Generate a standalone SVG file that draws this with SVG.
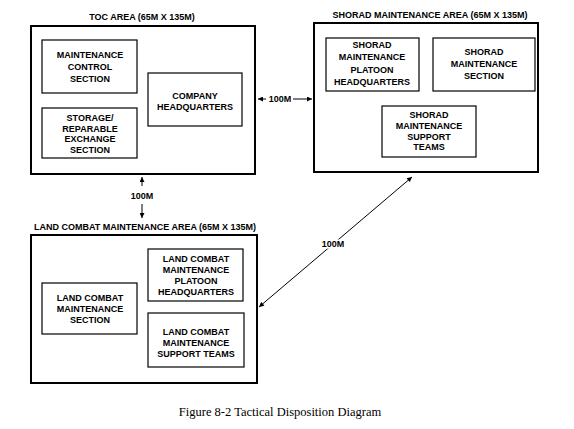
<svg xmlns="http://www.w3.org/2000/svg" width="574" height="429" viewBox="0 0 574 429">
<defs>
<marker id="ah" viewBox="0 0 10 10" refX="10" refY="5" markerWidth="6" markerHeight="5" orient="auto-start-reverse" markerUnits="userSpaceOnUse">
<path d="M0,0 L10,5 L0,10 Z" fill="#000"/>
</marker>
</defs>
<style>
text{font-family:"Liberation Sans",Arial,sans-serif;font-weight:bold;font-size:9px;fill:#000;text-anchor:middle}
.area{fill:none;stroke:#000;stroke-width:2}
.box{fill:none;stroke:#000;stroke-width:1.2}
.ln{stroke:#000;stroke-width:1;fill:none;marker-end:url(#ah)}
.both{stroke:#000;stroke-width:1;fill:none;marker-start:url(#ah);marker-end:url(#ah)}
.cap{font-family:"Liberation Serif","Times New Roman",serif;font-weight:normal;font-size:12.5px}
.halo{stroke:#fff;stroke-width:3;paint-order:stroke}
</style>
<rect width="574" height="429" fill="#fff"/>

<g id="toc-area">
<text x="142" y="20">TOC AREA (65M X 135M)</text>
<rect class="area" x="31" y="26" width="224" height="148"/>
</g>
<g id="maintenance-control">
<rect class="box" x="42" y="40" width="95" height="53"/>
<text x="90" y="58">MAINTENANCE</text>
<text x="90" y="70">CONTROL</text>
<text x="90" y="82">SECTION</text>
</g>
<g id="storage">
<rect class="box" x="42" y="108" width="95" height="50"/>
<text x="90" y="121">STORAGE/</text>
<text x="90" y="132">REPARABLE</text>
<text x="90" y="142">EXCHANGE</text>
<text x="90" y="153">SECTION</text>
</g>
<g id="company-hq">
<rect class="box" x="148" y="73" width="94" height="53"/>
<text x="195" y="99">COMPANY</text>
<text x="195" y="110">HEADQUARTERS</text>
</g>

<g id="shorad-area">
<text x="430" y="18">SHORAD MAINTENANCE AREA (65M X 135M)</text>
<rect class="area" x="314" y="23" width="224" height="149"/>
</g>
<g id="shorad-plt-hq">
<rect class="box" x="326" y="38" width="93" height="53"/>
<text x="372" y="48">SHORAD</text>
<text x="372" y="60">MAINTENANCE</text>
<text x="372" y="73">PLATOON</text>
<text x="372" y="85">HEADQUARTERS</text>
</g>
<g id="shorad-section">
<rect class="box" x="433" y="38" width="102" height="53"/>
<text x="484" y="55">SHORAD</text>
<text x="484" y="67">MAINTENANCE</text>
<text x="484" y="79">SECTION</text>
</g>
<g id="shorad-teams">
<rect class="box" x="382" y="106" width="94" height="51"/>
<text x="429" y="118">SHORAD</text>
<text x="429" y="129">MAINTENANCE</text>
<text x="429" y="140">SUPPORT</text>
<text x="429" y="150">TEAMS</text>
</g>

<g id="lcm-area">
<text x="145" y="230">LAND COMBAT MAINTENANCE AREA (65M X 135M)</text>
<rect class="area" x="31" y="235" width="226" height="148"/>
</g>
<g id="lcm-section">
<rect class="box" x="42" y="283" width="95" height="51"/>
<text x="90" y="301">LAND COMBAT</text>
<text x="90" y="312">MAINTENANCE</text>
<text x="90" y="323">SECTION</text>
</g>
<g id="lcm-plt-hq">
<rect class="box" x="148" y="249" width="95" height="52"/>
<text x="196" y="262">LAND COMBAT</text>
<text x="196" y="273">MAINTENANCE</text>
<text x="196" y="284">PLATOON</text>
<text x="196" y="295">HEADQUARTERS</text>
</g>
<g id="lcm-teams">
<rect class="box" x="148" y="313" width="96" height="54"/>
<text x="196" y="335">LAND COMBAT</text>
<text x="196" y="346">MAINTENANCE</text>
<text x="196" y="357">SUPPORT TEAMS</text>
</g>

<g id="connectors">
<line class="ln" x1="266" y1="99" x2="258" y2="99"/>
<line class="ln" x1="293" y1="99" x2="312" y2="99"/>
<text x="280" y="102">100M</text>
<line class="ln" x1="142" y1="186" x2="142" y2="177"/>
<line class="ln" x1="142" y1="204" x2="142" y2="218"/>
<text x="142" y="199">100M</text>
<line class="both" x1="259" y1="307" x2="412" y2="177"/>
<text class="halo" x="333" y="247">100M</text>
</g>

<text class="cap" x="280" y="416">Figure 8-2  Tactical Disposition Diagram</text>
</svg>
